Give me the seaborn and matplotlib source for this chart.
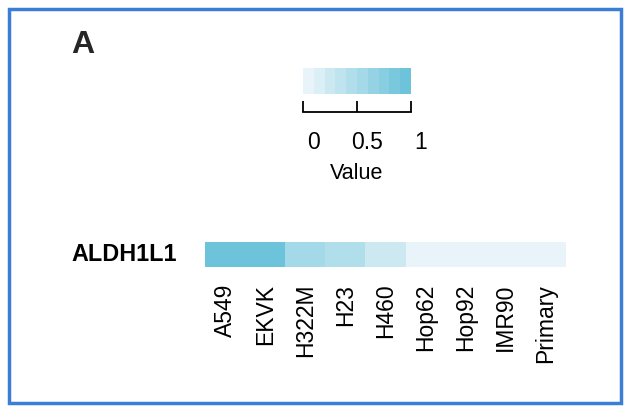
import numpy as np
import pandas as pd
import matplotlib
matplotlib.use("Agg")
import matplotlib.pyplot as plt
import seaborn as sns
from matplotlib.colors import LinearSegmentedColormap
from matplotlib.patches import Rectangle
import matplotlib.transforms as mtrans

samples = ["A549", "EKVK", "H322M", "H23", "H460", "Hop62", "Hop92", "IMR90", "Primary"]
genes = ["ALDH1L1"]
values = [1.0, 1.0, 0.55, 0.42, 0.2, 0.02, 0.02, 0.02, 0.02]
cbar_ticks = [0, 0.5, 1]
cbar_ticklabels = ["0", "0.5", "1"]

sns.set_theme(style="white")
plt.rcParams['font.family'] = ['Liberation Sans', 'DejaVu Sans']

W, H = 630, 412
fig = plt.figure(figsize=(W / 100, H / 100), dpi=100)


def ax_px(x0, y0, x1, y1):
    return fig.add_axes([x0 / W, 1 - y1 / H, (x1 - x0) / W, (y1 - y0) / H])


ax = ax_px(205, 242, 566, 267)
cax = ax_px(303, 68, 411, 94)

df = pd.DataFrame([values], index=genes, columns=samples)
cmap = LinearSegmentedColormap.from_list("c", ["#E8F4F9", "#6CC3DA"], N=10)
sns.heatmap(df, ax=ax, cmap=cmap, vmin=0, vmax=1, cbar_ax=cax,
            cbar_kws={"orientation": "horizontal"}, linewidths=0)

ax.tick_params(axis='x', length=0, pad=12, labelsize=16.5, colors='black')
ax.tick_params(axis='y', length=0, pad=20, labelsize=16.8, colors='black')
plt.setp(ax.get_xticklabels(), rotation=90, va='top', ha='center')
plt.setp(ax.get_yticklabels(), rotation=0, fontweight='bold', va='center')
ax.set_xlabel("")
ax.set_ylabel("")

cb = ax.collections[0].colorbar
cb.outline.set_visible(False)
cax.set_xticks([])
cax.set_yticks([])

# bracket axis under colorbar
bax = ax_px(303, 104, 411, 112)
bax.set_xlim(0, 1)
bax.set_facecolor('none')
for s in ['top', 'left', 'right']:
    bax.spines[s].set_visible(False)
bax.spines['bottom'].set_visible(True)
bax.spines['bottom'].set_color('black')
bax.spines['bottom'].set_linewidth(1.3)
bax.set_yticks([])
bax.set_xticks(cbar_ticks)
bax.set_xticklabels(cbar_ticklabels)
bax.tick_params(axis='x', direction='in', length=8, width=1.3, colors='black',
                bottom=True, pad=14, labelsize=16.5)
off = mtrans.ScaledTranslation(10 / 100, 0, fig.dpi_scale_trans)
for lbl in bax.get_xticklabels():
    lbl.set_transform(lbl.get_transform() + off)
bax.set_xlabel("Value", fontsize=15.5, labelpad=6, color='black')

fig.text(83 / W, 1 - 45 / H, "A", fontsize=23, fontweight='bold', ha='center', va='center')

fig.patches.append(Rectangle((9 / W, 9 / H), 612 / W, 394 / H, transform=fig.transFigure,
                             fill=False, edgecolor='#3A7FD5', linewidth=2.5))

fig.savefig("out.png", dpi=100)
